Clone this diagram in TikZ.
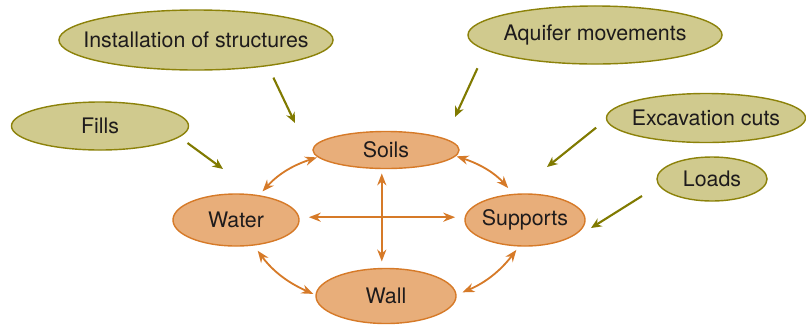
\documentclass[tikz,border=0pt]{standalone}
\usepackage{fontspec}
\setmainfont{TeX Gyre Heros}
\usepackage{xcolor}
\usepackage{tikz}
\usetikzlibrary{shapes.geometric,arrows.meta}

\definecolor{causefill}{RGB}{208,202,142}
\definecolor{causeline}{RGB}{140,130,10}
\definecolor{pushcol}{RGB}{128,122,0}
\definecolor{factfill}{RGB}{232,174,122}
\definecolor{factline}{RGB}{214,122,40}
\definecolor{ink}{RGB}{30,27,28}

\newcommand{\ctext}[1]{\makebox[0pt]{#1}}

\begin{document}
\begin{tikzpicture}[x=0.025cm, y=-0.025cm,
  font=\fontsize{15.2}{17}\selectfont,
  cause/.style={ellipse, draw=causeline, fill=causefill, line width=1pt, inner sep=0pt, text=ink},
  factor/.style={ellipse, draw=factline, fill=factfill, line width=1pt, inner sep=0pt, text=ink},
  push/.style={draw=pushcol, line width=1.5pt, -{Stealth[length=7.5pt,width=6.5pt]}},
  link/.style={draw=factline, line width=1.3pt, {Stealth[length=8.5pt,width=6.5pt]}-{Stealth[length=8.5pt,width=6.5pt]}}]
\useasboundingbox (0,0) rectangle (806,324);

% outer causes
\node[cause, minimum width=6.85cm, minimum height=1.5cm] (inst) at (196,40) {\ctext{Installation of structures}};
\node[cause, minimum width=4.425cm, minimum height=1.2cm] (fills) at (100,126) {\ctext{Fills}};
\node[cause, minimum width=6.35cm, minimum height=1.45cm] (aqui) at (595,35) {\ctext{Aquifer movements}};
\node[cause, minimum width=4.975cm, minimum height=1.225cm] (exc) at (706,118) {\ctext{Excavation cuts}};
\node[cause, minimum width=2.75cm, minimum height=1.1cm] (loads) at (712,179) {\ctext{Loads}};

% inner factors
\node[factor, minimum width=3.65cm, minimum height=0.925cm] (soils) at (386,150) {\ctext{Soils}};
\node[factor, minimum width=3.15cm, minimum height=1.3cm] (water) at (236,220) {\ctext{Water}};
\node[factor, minimum width=3cm, minimum height=1.3cm] (supports) at (525,220) {\ctext{Supports}};
\node[factor, minimum width=3.5cm, minimum height=1.375cm] (wall) at (386,296) {\ctext{Wall}};

% tips of the outer arrows
\coordinate (inst-tip) at (295,123);
\coordinate (fills-tip) at (223,169);
\coordinate (aqui-tip) at (455,117);
\coordinate (exc-tip) at (547,167);
\coordinate (loads-tip) at (591,228);

% outer arrows
\draw[push, shorten <=9pt] (inst.-20) -- (inst-tip);
\draw[push, shorten <=7pt] (fills.-8) -- (fills-tip);
\draw[push, shorten <=14pt] (aqui.188) -- (aqui-tip);
\draw[push, shorten <=9pt] (exc.181) -- (exc-tip);
\draw[push, shorten <=14pt] (loads.187) -- (loads-tip);

% links between factors
\draw[link, shorten <=0.5pt, shorten >=3.5pt] (soils.186) to[bend right=15] (water.47);
\draw[link, shorten <=0.5pt, shorten >=5.5pt] (soils.-5) to[bend left=15] (supports.114);
\draw[link, shorten <=4.5pt, shorten >=1.5pt] (water.-55) to[bend right=15] (wall.179);
\draw[link, shorten <=3pt, shorten >=4.5pt] (supports.-103) to[bend left=15] (wall.1);
\draw[link, shorten <=6.5pt, shorten >=6.5pt] ([yshift=2pt]water.east) -- ([yshift=2pt]supports.west);
\draw[link, shorten <=3pt, shorten >=4.5pt] ([xshift=-3pt]soils.south) -- ([xshift=-3pt]wall.north);
\end{tikzpicture}
\end{document}
